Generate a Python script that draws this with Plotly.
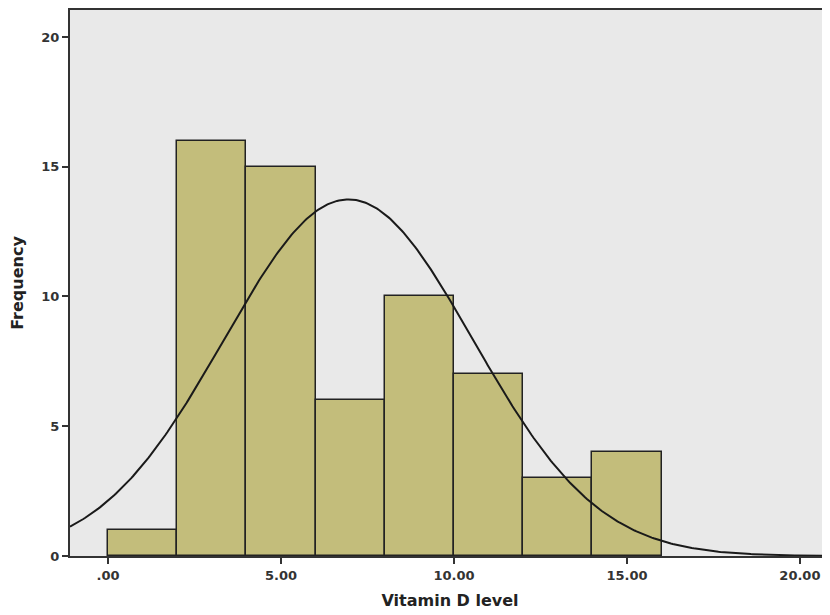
import numpy as np
import plotly.graph_objects as go

# Histogram data (bin width 2)
bin_centers = [1, 3, 5, 7, 9, 11, 13, 15]
counts = [1, 16, 15, 6, 10, 7, 3, 4]
bin_width = 2
# Fitted normal curve parameters
mean_val = 6.95
sd_val = 3.6
n_total = sum(counts)

x_ticks = [0, 5, 10, 15, 20]
x_tick_labels = [".00", "5.00", "10.00", "15.00", "20.00"]
y_ticks = [0, 5, 10, 15, 20]

xs = np.linspace(-1.1, 20.9, 400)
ys = n_total * bin_width / (sd_val * np.sqrt(2 * np.pi)) * np.exp(-((xs - mean_val) ** 2) / (2 * sd_val ** 2))

fig = go.Figure()
fig.add_trace(go.Bar(
    x=bin_centers, y=counts, width=bin_width,
    marker=dict(color="#c3bd7b", line=dict(color="#222222", width=1.5)),
    hoverinfo="x+y",
))
fig.add_trace(go.Scatter(
    x=xs, y=ys, mode="lines",
    line=dict(color="#1a1a1a", width=2),
    hoverinfo="skip",
))

font_family = "DejaVu Sans, Verdana, sans-serif"
fig.update_layout(
    width=822, height=607,
    margin=dict(l=62, r=0, t=0, b=59),
    plot_bgcolor="#e9e9e9",
    paper_bgcolor="white",
    showlegend=False,
    bargap=0,
    font=dict(family=font_family, color="#333333", size=12),
    xaxis=dict(
        range=[-1.1, 20.87],
        tickvals=x_ticks, ticktext=x_tick_labels,
        ticks="outside", ticklen=6, tickwidth=2, tickcolor="#333333",
        showline=True, linecolor="#333333", linewidth=2, mirror=True,
        showgrid=False, zeroline=False,
        tickfont=dict(size=13, family=font_family, color="#333333", weight="bold"),
        title=dict(text="<b>Vitamin D level</b>", font=dict(size=16, color="#222222", family=font_family), standoff=13),
    ),
    yaxis=dict(
        range=[0, 21.04],
        tickvals=y_ticks,
        ticks="outside", ticklen=6, tickwidth=2, tickcolor="#333333",
        showline=True, linecolor="#333333", linewidth=2,
        showgrid=False, zeroline=False,
        tickfont=dict(size=13, family=font_family, color="#333333", weight="bold"),
        title=dict(text="<b>Frequency</b>", font=dict(size=16, color="#222222", family=font_family), standoff=14),
    ),
)

fig.write_html("out.html")
